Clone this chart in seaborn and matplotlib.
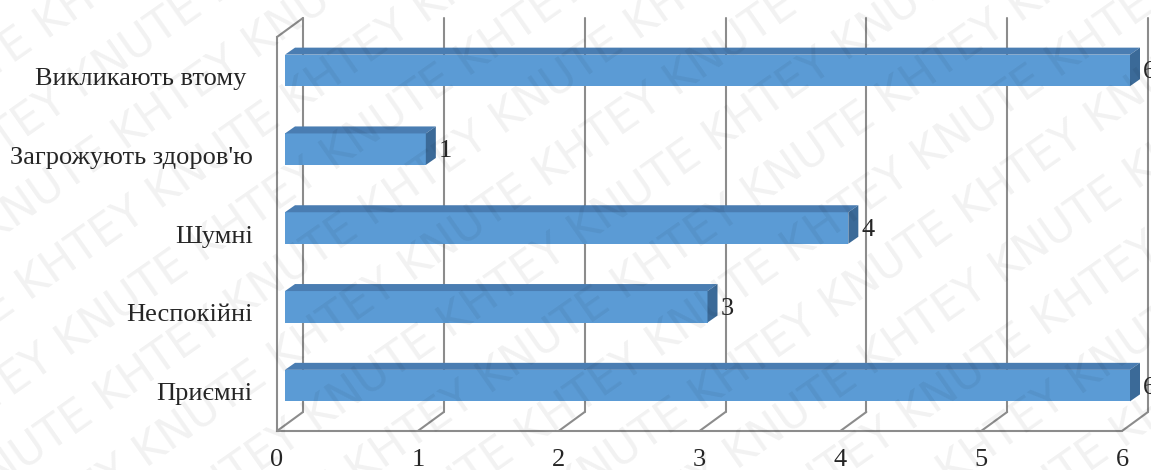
import numpy as np
import pandas as pd
import seaborn as sns
from matplotlib import pyplot as plt
from matplotlib.patches import Polygon
from matplotlib.lines import Line2D
from matplotlib.transforms import ScaledTranslation, IdentityTransform

categories = ["Викликають втому ", "Загрожують здоров'ю", "Шумні", "Неспокійні", "Приємні"]
values = [6, 1, 4, 3, 6]
x_ticks = [0, 1, 2, 3, 4, 5, 6]

FRONT = '#5B9BD5'
TOP = '#4A7DB2'
SIDE = '#3B6A98'
GRID = '#8C8C8C'

sns.set_style('white')
plt.rcParams['font.family'] = 'serif'
plt.rcParams['font.serif'] = ['Liberation Serif', 'DejaVu Serif']

fig = plt.figure(figsize=(11.51, 4.70), dpi=100)
W, H = 1151, 470
ax = fig.add_axes([277 / W, 39 / H, 845 / W, 394 / H])
ax.patch.set_visible(False)

df = pd.DataFrame({'category': categories, 'value': values})
sns.barplot(data=df, x='value', y='category', orient='h', color=FRONT,
            saturation=1, width=0.4, ax=ax, zorder=3)

ax.set_xlim(0, 6)
ax.set_ylim(4.5, -0.5)
ax.set_xlabel('')
ax.set_ylabel('')
ax.set_xticks(x_ticks)

for s in ['top', 'right']:
    ax.spines[s].set_visible(False)
for s in ['left', 'bottom']:
    ax.spines[s].set_color(GRID)
    ax.spines[s].set_linewidth(1.5)

FS = 19
ax.tick_params(axis='x', length=5, width=1.5, color=GRID, direction='out',
               labelsize=FS, pad=8)
ax.tick_params(axis='y', which='major', length=0, labelsize=FS, pad=17.5)
ax.set_yticks(np.arange(-0.5, 5, 1), minor=True)
ax.tick_params(axis='y', which='minor', length=6.5, width=1.5, color=GRID,
               direction='out')
for lab in ax.get_xticklabels() + ax.get_yticklabels():
    lab.set_family('Liberation Serif')

# pseudo-3d geometry in pixels
DEPTH = np.array([26, 19])
BAR_SHIFT = np.array([8, 6])
BAR_DEPTH = np.array([10, 7])


def px(x, y):
    return np.array(ax.transData.transform((x, y)))


def seg(p, q, z=-1):
    fig.add_artist(Line2D([p[0], q[0]], [p[1], q[1]], color=GRID, lw=1.5,
                          transform=IdentityTransform(), zorder=z))


# left wall
seg(px(0, -0.5), px(0, -0.5) + DEPTH)
seg(px(0, 4.5) + DEPTH, px(0, -0.5) + DEPTH)
# floor diagonals + back wall gridlines
for k in x_ticks:
    seg(px(k, 4.5), px(k, 4.5) + DEPTH)
    if k > 0:
        seg(px(k, 4.5) + DEPTH, px(k, -0.5) + DEPTH)

# bars: shift front faces, add top and side faces
shift = ScaledTranslation(BAR_SHIFT[0] / 100, BAR_SHIFT[1] / 100, fig.dpi_scale_trans)
for patch, v in zip(ax.patches, values):
    x0, y0 = patch.get_x(), patch.get_y()
    w, h = patch.get_width(), patch.get_height()
    patch.set_transform(ax.transData + shift)
    patch.set_clip_on(False)
    patch.set_linewidth(0)
    tl = px(x0, y0) + BAR_SHIFT
    tr = px(x0 + w, y0) + BAR_SHIFT
    br = px(x0 + w, y0 + h) + BAR_SHIFT
    top = Polygon([tl, tr, tr + BAR_DEPTH, tl + BAR_DEPTH], closed=True,
                  facecolor=TOP, edgecolor='none', transform=IdentityTransform(), zorder=1)
    side = Polygon([tr, br, br + BAR_DEPTH, tr + BAR_DEPTH], closed=True,
                   facecolor=SIDE, edgecolor='none', transform=IdentityTransform(), zorder=1)
    fig.add_artist(top)
    fig.add_artist(side)
    lx = tr[0] + BAR_DEPTH[0] + 3
    ly = (tr[1] + br[1]) / 2 - 2
    fig.text(lx, ly, str(v), transform=IdentityTransform(), fontsize=FS,
             family='Liberation Serif', ha='left', va='center', zorder=2)

# watermark
ang = np.deg2rad(35)
perp = np.array([np.sin(ang), -np.cos(ang)])
base = np.array([W / 2, H / 2])
for i in range(-10, 11):
    c = base + i * 68 * perp
    word = "KHTEY KNUTE " if i % 2 == 0 else "KNUTE KHTEY "
    fig.text(c[0], c[1], word * 5, transform=IdentityTransform(), fontsize=32,
             family='DejaVu Sans', color='#000000', alpha=0.055, rotation=35,
             rotation_mode='anchor', ha='center', va='center', zorder=10)

fig.savefig('out.png', dpi=100)
